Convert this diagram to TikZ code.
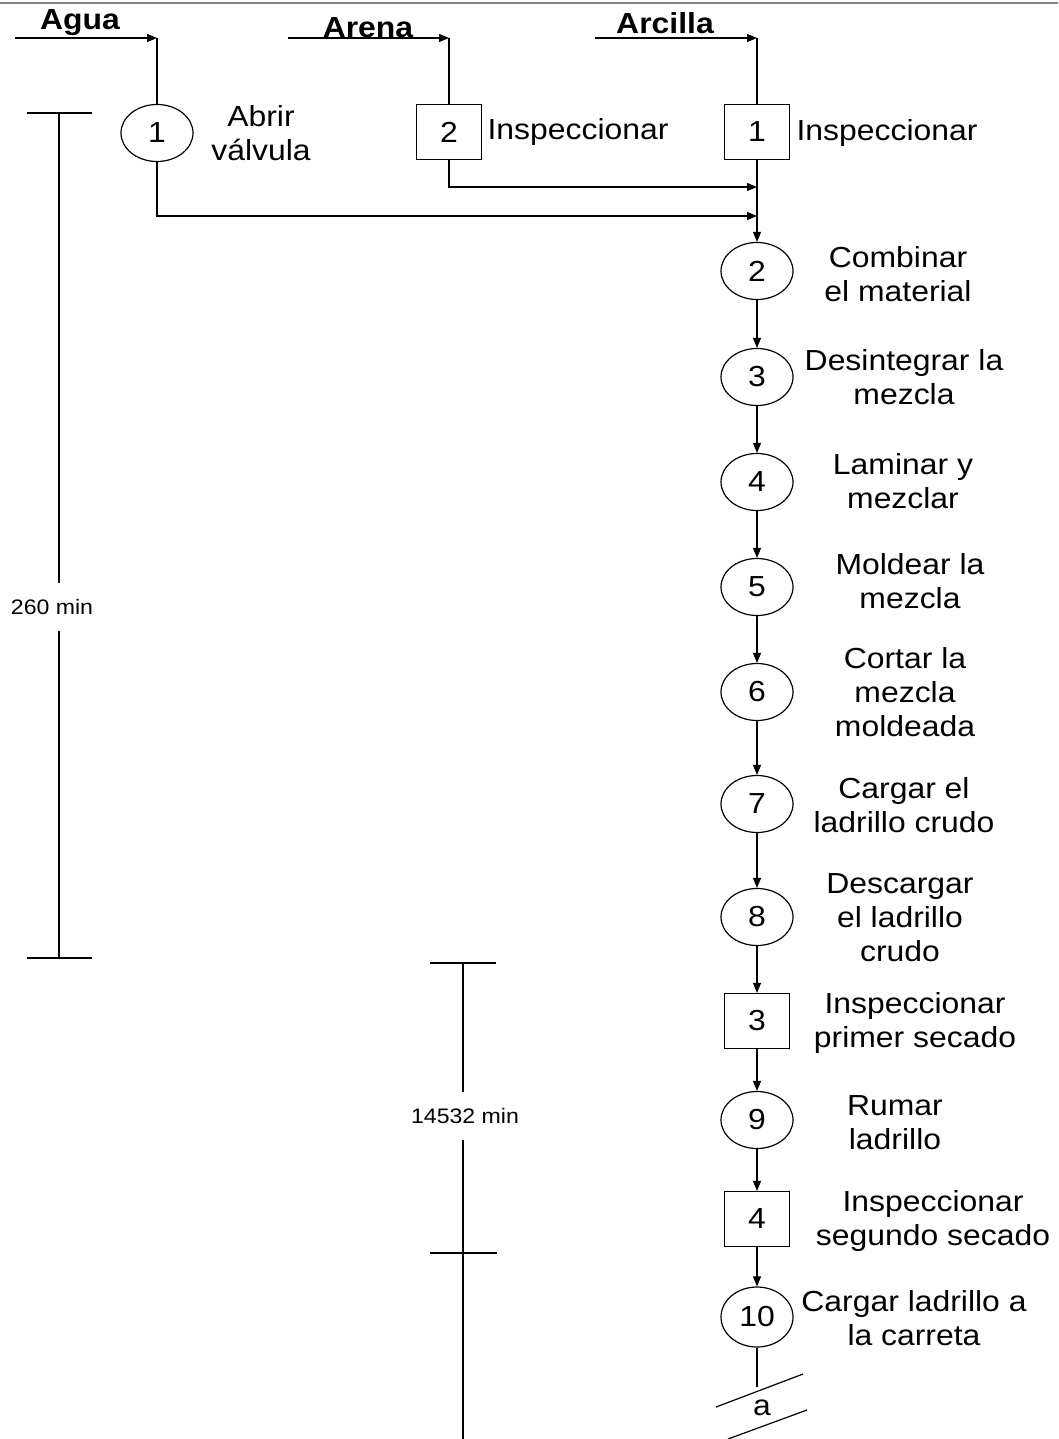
\documentclass[tikz,border=0pt]{standalone}
\usepackage{fontspec}
\setmainfont{Liberation Sans}[FakeStretch=1.1]
\usepackage{tikz}
\usetikzlibrary{shapes.geometric,arrows.meta}

\begin{document}
\begin{tikzpicture}[x=1pt,y=-1pt,line width=1.2pt,
	opcirc/.style={shape=ellipse,draw=black,minimum width=72pt,minimum height=57pt,inner sep=0pt,font=\fontsize{29}{34}\selectfont},
	inspbox/.style={shape=rectangle,draw=black,minimum width=65pt,minimum height=55pt,inner sep=0pt,font=\fontsize{29}{34}\selectfont},
	lbl/.style={align=center,inner sep=0pt,font=\fontsize{29}{34}\selectfont},
	inlbl/.style={inner sep=0pt,font=\fontsize{29}{34}\selectfont\bfseries},
	dimlbl/.style={inner sep=0pt,minimum height=47pt,font=\fontsize{21}{24}\selectfont},
	flow/.style={-{Triangle[length=10pt,width=8pt]}}]

	\useasboundingbox (0,0) rectangle (1058,1439);
	\draw[gray,line width=1.5pt] (0,3) -- (1058,3);

	\node[inlbl] (agua) at (80, 23)    {Agua};
	\node[inlbl] (arena) at (368, 28)  {Arena};
	\node[inlbl] (arcilla) at (665, 23) {Arcilla};
	\coordinate (aguain) at (15, 38);
	\coordinate (aguaend) at (157, 38);
	\coordinate (arenain) at (288, 38);
	\coordinate (arenaend) at (449, 38);
	\coordinate (arcillain) at (595, 38);
	\coordinate (arcillaend) at (757, 38);

	\node[opcirc] (op1) at (157, 133)  {1};
	\node[inspbox] (in2) at (449, 132) {2};
	\node[inspbox] (in1) at (757, 132) {1};

	\node[lbl] (t1) at (261, 133)          {Abrir\\válvula};
	\node[lbl,anchor=west] (ti2) at (487, 132) {Inspeccionar};
	\node[lbl,anchor=west] (ti1) at (796, 133) {Inspeccionar};

	\coordinate (j1) at (757, 187);
	\coordinate (j2) at (757, 216);

	\node[opcirc] (op2) at (757, 271)   {2};
	\node[opcirc] (op3) at (757, 377)   {3};
	\node[opcirc] (op4) at (757, 482)   {4};
	\node[opcirc] (op5) at (757, 587)   {5};
	\node[opcirc] (op6) at (757, 692)   {6};
	\node[opcirc] (op7) at (757, 804)   {7};
	\node[opcirc] (op8) at (757, 917)   {8};
	\node[inspbox] (in3) at (757, 1021) {3};
	\node[opcirc] (op9) at (757, 1120)  {9};
	\node[inspbox] (in4) at (757, 1219) {4};
	\node[opcirc,minimum height=60pt] (op10) at (757, 1317) {10};

	\node[lbl] (t2) at (898, 274)   {Combinar\\el material};
	\node[lbl] (t3) at (904, 377)   {Desintegrar la\\mezcla};
	\node[lbl] (t4) at (903, 481)   {Laminar y\\mezclar};
	\node[lbl] (t5) at (910, 581)   {Moldear la\\mezcla};
	\node[lbl] (t6) at (905, 692)   {Cortar la\\mezcla\\moldeada};
	\node[lbl] (t7) at (904, 805)   {Cargar el\\ladrillo crudo};
	\node[lbl] (t8) at (900, 918)   {Descargar\\el ladrillo\\crudo};
	\node[lbl] (ti3) at (915, 1023) {Inspeccionar\\primer secado};
	\node[lbl] (t9) at (895, 1123)  {Rumar\\ladrillo};
	\node[lbl] (ti4) at (933, 1221) {Inspeccionar\\segundo secado};
	\node[lbl] (t10) at (914, 1318) {Cargar ladrillo a\\la carreta};

	\path[flow] (aguain) edge (aguaend);
	\path[flow] (arenain) edge (arenaend);
	\path[flow] (arcillain) edge (arcillaend);
	\path[-] (aguaend) edge (op1);
	\path[-] (arenaend) edge (in2);
	\path[-] (arcillaend) edge (in1);

	\draw[flow] (in2) |- (j1);
	\draw[flow] (op1) |- (j2);
	\path[flow] (in1) edge (op2);
	\path[flow] (op2) edge (op3);
	\path[flow] (op3) edge (op4);
	\path[flow] (op4) edge (op5);
	\path[flow] (op5) edge (op6);
	\path[flow] (op6) edge (op7);
	\path[flow] (op7) edge (op8);
	\path[flow] (op8) edge (in3);
	\path[flow] (in3) edge (op9);
	\path[flow] (op9) edge (in4);
	\path[flow] (in4) edge (op10);

	\coordinate (endpt) at (757, 1387);
	\path[-] (op10) edge (endpt);
	\coordinate (sa1) at (716, 1407);
	\coordinate (sa2) at (803, 1374);
	\coordinate (sb1) at (728, 1439);
	\coordinate (sb2) at (807, 1410);
	\draw (sa1) -- (sa2);
	\draw (sb1) -- (sb2);
	\node[lbl] (conn) at (762, 1408) {a};

	\coordinate (d1top) at (59, 113);
	\coordinate (d1bot) at (59, 958);
	\node[dimlbl] (d1) at (52, 607) {260 min};
	\draw ([xshift=-32pt]d1top) -- ([xshift=33pt]d1top);
	\draw ([xshift=-32pt]d1bot) -- ([xshift=33pt]d1bot);
	\draw (d1top) -- (d1top |- d1.north);
	\draw (d1bot) -- (d1bot |- d1.south);

	\coordinate (d2top) at (463, 963);
	\coordinate (d2mid) at (463, 1253);
	\coordinate (d2bot) at (463, 1439);
	\node[dimlbl] (d2) at (465, 1116) {14532 min};
	\draw ([xshift=-33pt]d2top) -- ([xshift=33pt]d2top);
	\draw ([xshift=-33pt]d2mid) -- ([xshift=34pt]d2mid);
	\draw (d2top) -- (d2top |- d2.north);
	\draw (d2bot) -- (d2bot |- d2.south);

\end{tikzpicture}
\end{document}
